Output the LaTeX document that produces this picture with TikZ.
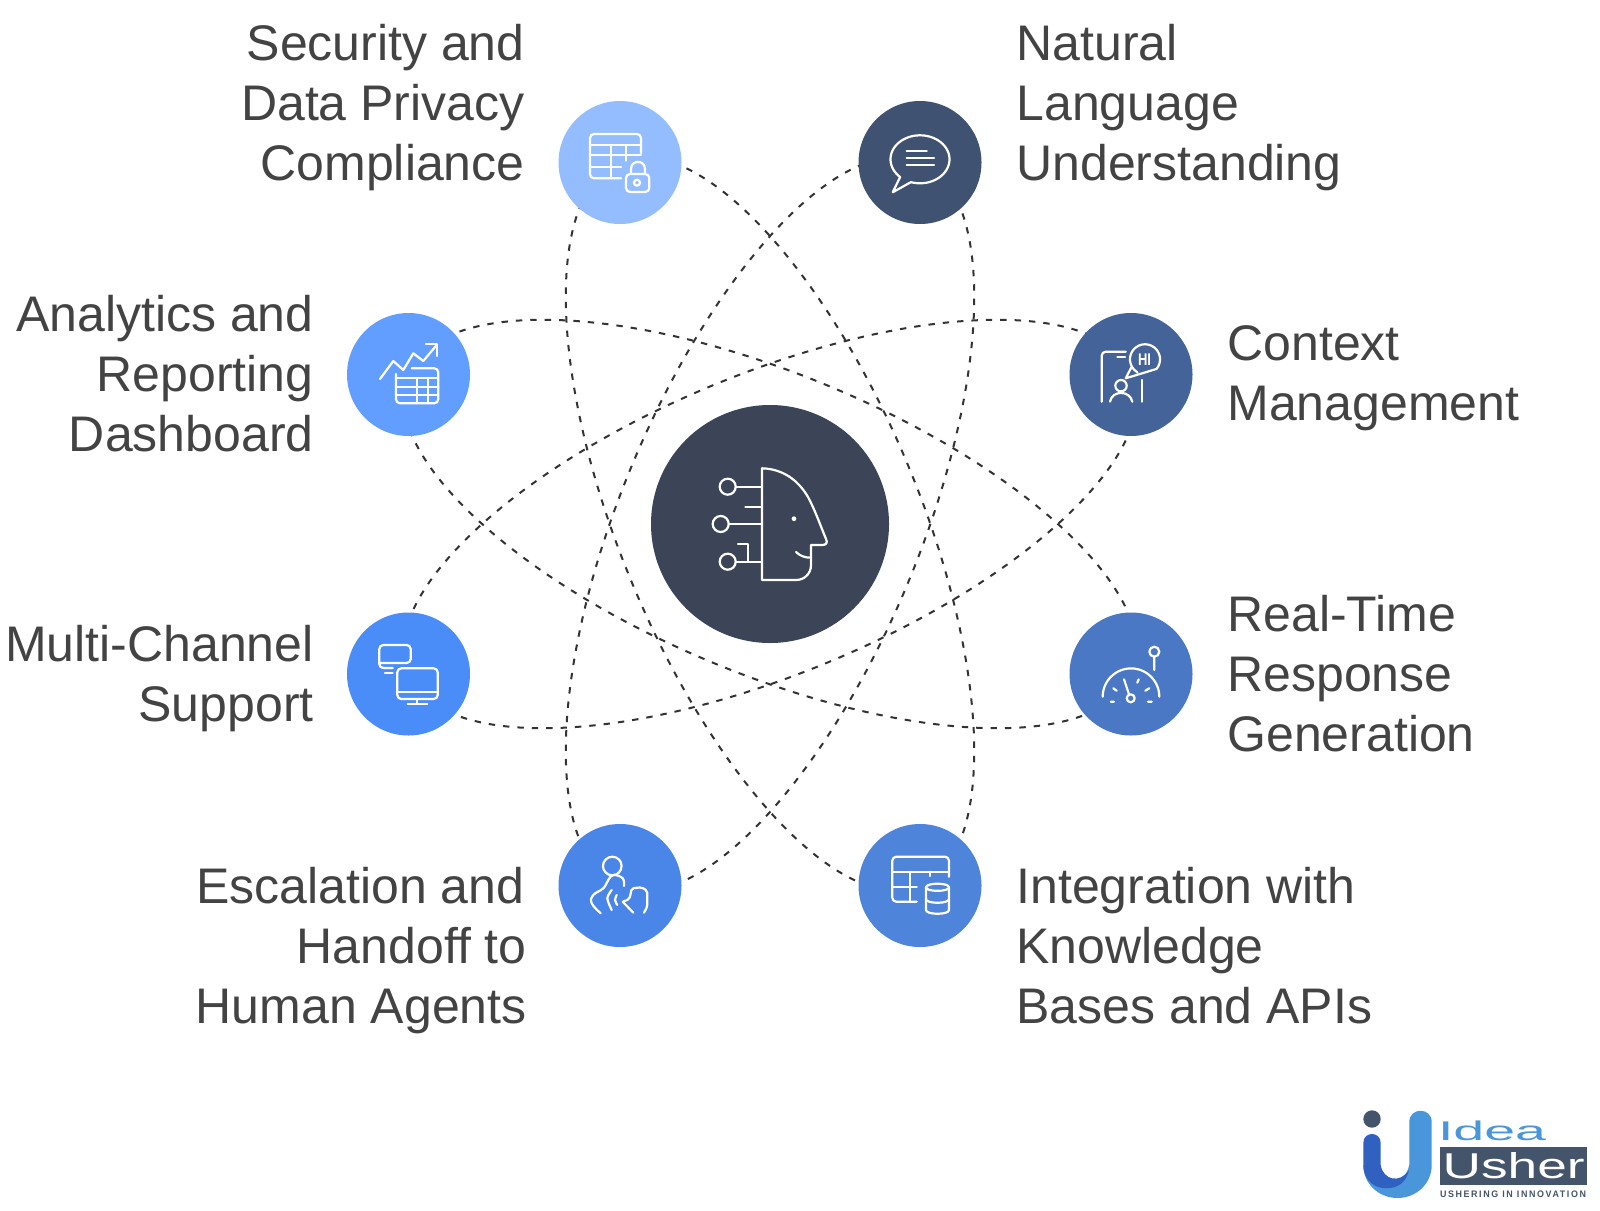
\documentclass[tikz,border=0pt]{standalone}
\usepackage{fontspec}
\setmainfont{Liberation Sans}
\definecolor{txt}{HTML}{434343}
\definecolor{cen}{HTML}{3B4557}
\definecolor{cTL}{HTML}{94BDFF}
\definecolor{cTR}{HTML}{3F5272}
\definecolor{cAn}{HTML}{629EFF}
\definecolor{cMu}{HTML}{4A8DF8}
\definecolor{cCo}{HTML}{446399}
\definecolor{cRe}{HTML}{4A78C4}
\definecolor{cEs}{HTML}{4A86E8}
\definecolor{cIn}{HTML}{4E84D9}
\definecolor{logoL}{HTML}{4A96DB}
\definecolor{logoD}{HTML}{3161C0}
\definecolor{logoG}{HTML}{44546A}
\tikzset{
  orbit/.style={draw=black!80,line width=1pt,dash pattern=on 3.2pt off 4pt},
  hub/.style={circle,inner sep=0pt,minimum size=119pt,fill=cen},
  sat/.style={circle,inner sep=0pt,minimum size=61.5pt},
  lab/.style={text=txt,inner sep=0pt,font=\fontsize{25}{30}\selectfont},
  labL/.style={lab,align=right,anchor=east},
  labR/.style={lab,align=left,anchor=west},
  ico/.style={draw=white,line width=1.1pt,line cap=round,line join=round},
  icor/.style={ico,rounded corners=2pt},
}
\begin{document}
\begin{tikzpicture}[x=0.5pt,y=-0.5pt]
\useasboundingbox (0,0) rectangle (1600,1210);
\fill[white] (0,0) rectangle (1600,1210);
% orbits
\foreach \a in {22.5,67.5,112.5,157.5}{
  \begin{scope}[shift={(770,524)},rotate=\a]
    \draw[orbit] (0,0) ellipse [x radius=196pt,y radius=75pt];
  \end{scope}
}
% nodes
\node[hub] (hub) at (770,524) {};
\node[sat,fill=cTL] (sec) at (620,162.5) {};
\node[sat,fill=cTR] (nat) at (920,162.5) {};
\node[sat,fill=cAn] (ana) at (408.5,374.5) {};
\node[sat,fill=cCo] (con) at (1131,374.5) {};
\node[sat,fill=cMu] (mul) at (408.5,674) {};
\node[sat,fill=cRe] (rea) at (1131,674) {};
\node[sat,fill=cEs] (esc) at (620,885.5) {};
\node[sat,fill=cIn] (int) at (920,885.5) {};
% labels
\node[labL] (tsec) at (525,107.5) {Security and\\Data Privacy\\Compliance};
\node[labR] (tnat) at (1016,107.5) {Natural\\Language\\Understanding};
\node[labL] (tana) at (314,373.5) {Analytics and\\Reporting\\Dashboard};
\node[labR] (tcon) at (1227,378) {Context\\Management};
\node[labL] (tmul) at (314,679) {Multi-Channel\\Support};
\node[labR] (trea) at (1227,674) {Real-Time\\Response\\Generation};
\node[labL] (tesc) at (527,950.5) {Escalation and\hspace*{1.2pt}\\Handoff to\hspace*{4.5pt}\\Human Agents};
\node[labR] (tint) at (1016,946) {Integration with\\Knowledge\\Bases and APIs};
% central icon
\draw[ico] (762,580) -- (762,468.3) .. controls (783,469) and (798,480) .. (808,497)
  .. controls (815,510) and (821,527) .. (826,539) .. controls (828,543) and (826,545) .. (822,545)
  -- (811,545) -- (811,565) .. controls (811,574) and (804,580) .. (796,580) -- cycle;
\fill[white] (794,518.7) circle[radius=1.2pt];
\draw[ico] (796,552) .. controls (800,556) and (805,557.7) .. (811,557.7);
\draw[ico] (727.7,486.7) circle[radius=4pt] (720.7,524) circle[radius=4pt] (727.7,561.7) circle[radius=4pt];
\draw[ico] (736,486.7) -- (762,486.7) (745.3,506.7) -- (762,506.7) (729,524) -- (762,524)
  (736,561.7) -- (762,561.7) (738,544.3) -- (748.3,544.3) -- (748.3,561.7);
% security icon
\draw[icor] (621,178.3) -- (590,178.3) -- (590,134) -- (641,134) -- (641,153);
\draw[ico] (590,145) -- (641,145) (590,155) -- (641,155) (590,166.7) -- (621,166.7)
  (610.7,145) -- (610.7,178.3) (626,145) -- (626,160.7);
\draw[icor] (626,174) rectangle (649.3,192);
\draw[ico] (631,174) -- (631,169) .. controls (631,159.5) and (645,159.5) .. (645,169) -- (645,174);
\draw[ico] (637,182.7) circle[radius=1.5pt];
% language icon
\draw[ico] plot[domain=132:468,samples=60,smooth] ({920+29.5*cos(\x)},{159.3+24*sin(\x)})
  -- (892.7,192.3) -- (900,177.3);
\draw[ico] (906.7,150.7) -- (926.7,150.7) (906.7,158) -- (934,158) (906.7,165.3) -- (934,165.3);
% analytics icon
\draw[ico] (380,379) -- (393.3,361) -- (403.3,370) -- (413.3,353.3) -- (423.3,361) -- (436.7,345);
\draw[ico] (426,344.3) -- (437.3,344.3) -- (437.3,356);
\draw[icor] (411.7,368.3) -- (438.3,368.3) -- (438.3,403.3) -- (396,403.3) -- (396,374);
\draw[ico] (396,378.3) -- (438.3,378.3) (396,387.3) -- (438.3,387.3) (396,395) -- (438.3,395)
  (417.3,378.3) -- (417.3,403.3) (428.3,378.3) -- (428.3,403.3);
% multi-channel icon
\draw[icor] (392.7,668) -- (379.3,668) -- (379.3,645) -- (410.7,645) -- (410.7,663) -- (379.3,663);
\draw[ico] (385,673.3) -- (392.7,673.3);
\draw[icor] (397.3,668.3) rectangle (437.7,699);
\draw[ico] (397.3,691.7) -- (437.7,691.7) (417.3,699) -- (417.3,704) (407.7,704) -- (427.3,704);
% context icon
\draw[icor] (1101.7,401.7) -- (1101.7,351.7) -- (1125.7,351.7);
\draw[ico] (1117.3,357.3) -- (1125,357.3) (1142.3,380) -- (1142.3,401.7);
\draw[ico] plot[domain=120:400,samples=50,smooth] ({1145+15*cos(\x)},{359.3+15*sin(\x)})
  -- (1125.7,378.3) -- (1131.7,366.7);
\node[text=white,inner sep=0pt,font=\bfseries] (hi) at (1144.5,359.8) {\resizebox{6.5pt}{5.8pt}{HI}};
\draw[ico] (1121,385.7) circle[radius=2.85pt];
\draw[ico] (1110,401.7) .. controls (1112,390) and (1130,390) .. (1132.3,401.7);
% real-time icon
\draw[ico] plot[domain=180:360,samples=40,smooth] ({1131+28.3*cos(\x)},{696.7+28.3*sin(\x)});
\draw[ico] (1154.3,651.7) circle[radius=2.5pt] (1130.7,698.3) circle[radius=2pt];
\draw[ico] (1154.3,656.7) -- (1154.3,670) (1124,679.3) -- (1129,694.3)
  (1110.7,701.7) -- (1114,701.7) (1113.3,688.3) -- (1116.7,690.7) (1138.7,679.3) -- (1137.3,682.7)
  (1149.3,688.3) -- (1145.3,690.7) (1148,701.7) -- (1151.7,701.7);
% escalation icon
\draw[ico] (612.3,866) circle[radius=4.65pt];
\draw[ico] plot[smooth,tension=0.7] coordinates {(624,886) (622.7,878.3) (613.3,875) (608.3,880) (603.3,888.3) (593.3,895) (591.7,903.3) (600.7,913.3)};
\draw[ico] plot[smooth] coordinates {(611.7,890) (607.3,898.3) (611.7,910)};
\draw[ico] plot[smooth] coordinates {(616.7,895) (615,900) (617.3,905)};
\draw[ico] (622.7,901.7) -- (633.3,912.7);
\draw[ico,rounded corners=1pt] (623,901.7) -- (629.5,899) -- (631.7,888.3) -- (642,887.3) -- (647.3,891) -- (647.3,906.7) -- (644,912.7);
% integration icon
\draw[icor] (916.7,901.7) -- (892.3,901.7) -- (892.3,856.7) -- (949,856.7) -- (949,876.7);
\draw[ico] (892.3,871.7) -- (949,871.7) (892.3,887.3) -- (916.7,887.3) (910,871.7) -- (910,901.7) (930,871.7) -- (930,876);
\draw[ico] (926,887.3) .. controls (926,882.5) and (949,882.5) .. (949,887.3)
  .. controls (949,892) and (926,892) .. (926,887.3) -- (926,910) .. controls (926,915) and (949,915) .. (949,910) -- (949,887.3);
\draw[ico] (926,899) .. controls (926,904) and (949,904) .. (949,899);
% logo
\fill[logoG] (1372,1119) circle[radius=4.35pt];
\fill[logoL] (1409.3,1122) .. controls (1409.3,1107) and (1431.7,1107) .. (1431.7,1122)
  -- (1431.7,1165) .. controls (1431.7,1184) and (1416,1198) .. (1397.5,1198)
  .. controls (1379,1198) and (1363.3,1184) .. (1363.3,1165)
  .. controls (1370,1187) and (1404,1190) .. (1409.3,1165) -- cycle;
\fill[logoD] (1363.3,1143) .. controls (1363.3,1131) and (1380.7,1131) .. (1380.7,1143)
  -- (1380.7,1165) .. controls (1383,1180) and (1400,1184) .. (1409,1170)
  .. controls (1405,1188) and (1390,1189) .. (1383,1188)
  .. controls (1372,1187) and (1363.3,1178) .. (1363.3,1165) -- cycle;
\node[inner sep=0pt,text=logoL] (idea) at (1492,1131) {\resizebox{54pt}{9.8pt}{Idea}};
\node[fill=logoG,inner sep=0pt,minimum width=73.6pt,minimum height=19pt] (ushbox) at (1513.6,1166) {};
\node[inner sep=0pt,text=white] (usher) at (ushbox) {\resizebox{71pt}{13pt}{Usher}};
\node[inner sep=0pt,text=logoG,font=\bfseries] (tagline) at (1513,1194) {\resizebox{73pt}{3.3pt}{\addfontfeature{LetterSpace=18}USHERING IN INNOVATION}};
\end{tikzpicture}
\end{document}
